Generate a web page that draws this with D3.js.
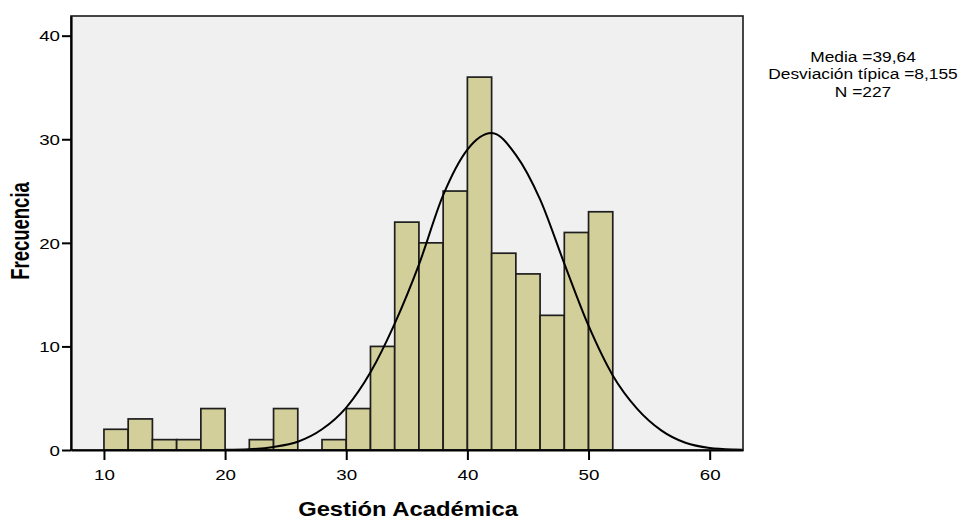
<!DOCTYPE html>
<html>
<head>
<meta charset="utf-8">
<script src="https://cdn.jsdelivr.net/npm/d3@7"></script>
<style>
  html, body { margin: 0; padding: 0; background: #ffffff; }
  svg { display: block; }
  text { font-family: "Liberation Sans", Arial, sans-serif; fill: #000; }
</style>
</head>
<body>
<svg id="chart" width="961" height="521"></svg>
<script>
// ---- data ----
const binStart = [10, 12, 14, 16, 18, 20, 22, 24, 26, 28, 30, 32, 34, 36, 38, 40, 42, 44, 46, 48, 50];
const binEnd   = [12, 14, 16, 18, 20, 22, 24, 26, 28, 30, 32, 34, 36, 38, 40, 42, 44, 46, 48, 50, 52];
const counts   = [2, 3, 1, 1, 4, 0, 1, 4, 0, 1, 4, 10, 22, 20, 25, 36, 19, 17, 13, 21, 23];

const curveX = [20, 22, 24, 26, 28, 30, 32, 34, 36, 38, 40, 42, 44, 46, 48, 50, 52, 54, 56, 58, 60, 62, 62.7];
const curveY = [0.02, 0.08, 0.3, 0.8, 2.0, 4.1, 7.5, 12.2, 17.9, 24.6, 29.0, 30.6, 28.5, 24.2, 18.0, 12.0, 7.2, 4.0, 1.9, 0.7, 0.2, 0.05, 0.03];

const xTicks = [10, 20, 30, 40, 50, 60];
const yTicks = [0, 10, 20, 30, 40];

const xTitle = "Gestión Académica";
const yTitle = "Frecuencia";
const statLines = ["Media =39,64", "Desviación típica =8,155", "N =227"];

// ---- layout ----
const L = 71, R = 743, T = 16, B = 450;
const SX = 1.25; // horizontal stretch of tick text in reference

const svg = d3.select("#chart");
const x = d3.scaleLinear().domain([7.28, 62.75]).range([L, R]);
const y = d3.scaleLinear().domain([0, 41.9]).range([B, T]);

svg.append("rect").attr("x", 0).attr("y", 0).attr("width", 961).attr("height", 521).attr("fill", "#fff");

// plot background
svg.append("rect")
  .attr("x", L).attr("y", T).attr("width", R - L).attr("height", B - T)
  .attr("fill", "#f0f0f0");

svg.append("clipPath").attr("id", "clip")
  .append("rect").attr("x", L).attr("y", T).attr("width", R - L).attr("height", B - T);

// bars
const bins = binStart.map((s, i) => ({ s, e: binEnd[i], c: counts[i] })).filter(d => d.c > 0);
svg.append("g")
  .selectAll("rect")
  .data(bins)
  .join("rect")
  .attr("x", d => x(d.s))
  .attr("y", d => y(d.c))
  .attr("width", d => x(d.e) - x(d.s))
  .attr("height", d => y(0) - y(d.c))
  .attr("fill", "#d3cf9a")
  .attr("stroke", "#1e1e1e")
  .attr("stroke-width", 1.7);

// normal curve
const line = d3.line()
  .x(d => x(d[0]))
  .y(d => y(d[1]))
  .curve(d3.curveMonotoneX);
svg.append("path")
  .datum(curveX.map((v, i) => [v, curveY[i]]))
  .attr("clip-path", "url(#clip)")
  .attr("d", line)
  .attr("fill", "none")
  .attr("stroke", "#000")
  .attr("stroke-width", 2);

// frame
svg.append("rect")
  .attr("x", L).attr("y", T).attr("width", R - L).attr("height", B - T)
  .attr("fill", "none").attr("stroke", "#1a1a1a").attr("stroke-width", 1.6);

// axes
const yAxis = svg.append("g")
  .attr("transform", `translate(${L},0)`)
  .call(d3.axisLeft(y).tickValues(yTicks).tickSizeInner(9).tickSizeOuter(0).tickPadding(3).tickFormat(d3.format("d")));
const xAxis = svg.append("g")
  .attr("transform", `translate(0,${B})`)
  .call(d3.axisBottom(x).tickValues(xTicks).tickSizeInner(10).tickSizeOuter(0).tickPadding(4).tickFormat(d3.format("d")));

[yAxis, xAxis].forEach(g => {
  g.select(".domain").attr("stroke", "#000").attr("stroke-width", 2.2);
  g.selectAll(".tick line").attr("stroke", "#000").attr("stroke-width", 2);
  g.selectAll(".tick text")
    .attr("font-size", 15)
    .attr("font-family", "Liberation Sans, Arial, sans-serif")
    .attr("fill", "#000");
});
yAxis.selectAll(".tick text").each(function () {
  const t = d3.select(this);
  t.attr("x", null).attr("dy", "0.35em").attr("text-anchor", "end")
   .attr("transform", `translate(-11,0) scale(${SX},1)`);
});
xAxis.selectAll(".tick text").each(function () {
  const t = d3.select(this);
  t.attr("y", null).attr("dy", null)
   .attr("transform", `translate(0,30) scale(${SX},1)`);
});

// axis titles
svg.append("text")
  .attr("transform", `translate(408,516) scale(1.16,1)`)
  .attr("text-anchor", "middle")
  .attr("font-weight", "bold")
  .attr("font-size", 20.5)
  .text(xTitle);

svg.append("text")
  .attr("transform", `translate(29,231) scale(1.35,1) rotate(-90)`)
  .attr("text-anchor", "middle")
  .attr("font-weight", "bold")
  .attr("font-size", 18.5)
  .text(yTitle);

// stats legend
svg.append("g")
  .selectAll("text")
  .data(statLines)
  .join("text")
  .attr("transform", (d, i) => `translate(863,${61.5 + i * 17.5}) scale(1.12,1)`)
  .attr("text-anchor", "middle")
  .attr("font-size", 15.5)
  .text(d => d);
</script>
</body>
</html>
